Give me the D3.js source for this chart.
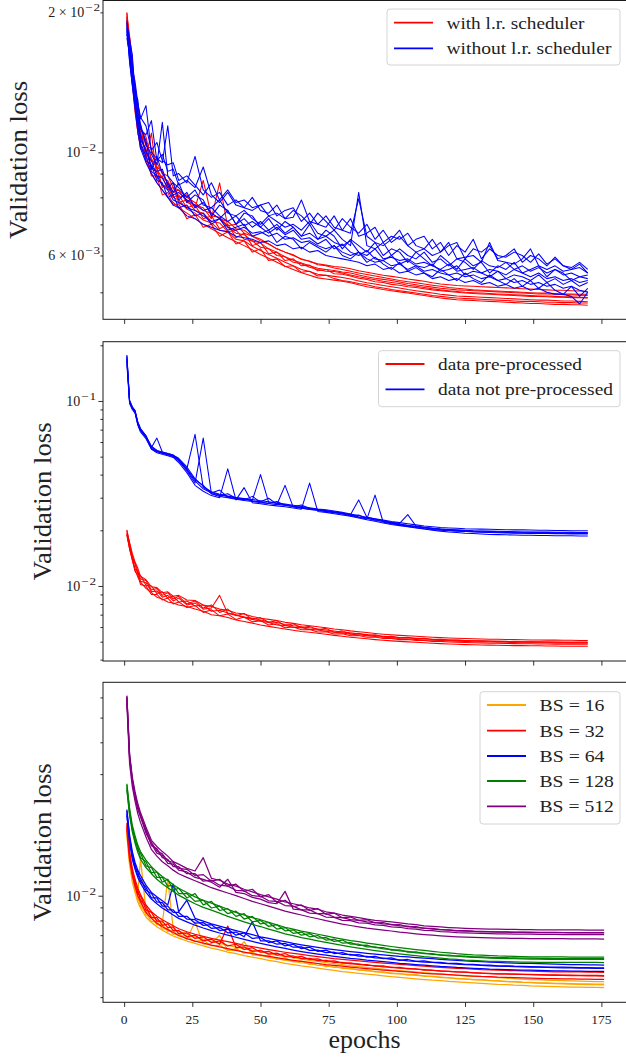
<!DOCTYPE html>
<html><head><meta charset="utf-8">
<script src="https://cdn.jsdelivr.net/npm/d3@7"></script>
<style>
html,body{margin:0;padding:0;background:#fff;}
svg{display:block;}
text{font-family:"Liberation Serif","Times New Roman",serif;fill:#222;}
</style></head><body>
<svg id="chart" width="626" height="1061"></svg>
<script>
// ---------------- DATA ----------------
// epochs at which the runs below are sampled
const EPOCHS = [1,2,3,4,5,6,8,10,12,14,16,18,20,23,26,29,32,35,38,41,44,47,50,53,56,59,62,65,68,71,74,77,80,83,86,89,92,95,98,101,104,107,110,113,116,119,122,125,128,131,134,137,140,143,146,149,152,155,158,161,164,167,170,173,176];
// all loss values are given in units of 10^-3
const UNIT = 1e-3;

// Panel 1 : learning-rate scheduler
const withScheduler = [
 [19.9,17.8,15.9,13.2,12.4,11.2,10.8,9.6,9.5,9.0,8.9,8.4,8.3, 8.0,7.8,7.5,7.4,7.2,7.1,6.85,6.8,6.6,6.5, 6.35,6.2,6.1,6.0,5.9,5.82,5.76,5.72,5.68,5.66, 5.62,5.56,5.52,5.48,5.44,5.41,5.38,5.34,5.31,5.28, 5.24,5.21,5.19,5.17,5.16,5.15,5.14,5.13,5.12,5.11, 5.1,5.09,5.08,5.07,5.06,5.05,5.05,5.04,5.03,5.02],
 [19.5,16.9,14.6,13.5,11.3,11.1,9.8,11.0,8.8,8.9,8.3,8.4,7.8, 7.9,7.5,7.4,7.1,7.05,6.75,6.8,6.5,6.45,6.25, 6.2,6.0,5.96,5.8,5.76,5.66,5.6,5.55,5.54,5.5, 5.45,5.4,5.36,5.32,5.28,5.25,5.22,5.18,5.15,5.12, 5.09,5.06,5.04,5.02,5.0,4.99,4.98,4.97,4.96,4.95, 4.94,4.93,4.92,4.91,4.91,4.9,4.89,4.89,4.88,4.87],
 [19.2,17.0,15.2,12.6,11.5,10.6,10.2,9.2,9.1,8.5,8.4,8.0,7.9, 7.55,7.4,7.15,7.05,6.8,6.75,6.5,6.45,6.28,6.15, 6.03,5.92,5.8,5.7,5.6,5.54,5.47,5.44,5.41,5.38, 5.34,5.29,5.24,5.21,5.17,5.14,5.11,5.07,5.04,5.01, 4.98,4.95,4.93,4.91,4.9,4.89,4.88,4.87,4.86,4.85, 4.84,4.83,4.82,4.81,4.81,4.8,4.79,4.79,4.78,4.77],
 [19.6,17.4,14.8,12.8,11.0,10.4,9.6,9.0,8.6,8.3,8.0,7.8,7.6, 7.4,7.2,7.0,6.85,6.7,6.55,6.42,6.3,6.17,6.03, 5.92,5.8,5.69,5.6,5.51,5.44,5.37,5.34,5.31,5.28, 5.24,5.19,5.14,5.11,5.07,5.04,5.01,4.98,4.95,4.92, 4.89,4.86,4.84,4.82,4.81,4.8,4.79,4.78,4.77,4.76, 4.75,4.74,4.73,4.73,4.72,4.71,4.71,4.7,4.7,4.69],
 [19.0,17.6,15.4,13.4,11.9,11.4,10.3,10.2,9.2,8.8,8.7,8.2,8.3, 7.8,7.7,7.6,7.2,8.6,6.9,6.7,6.65,6.45,6.38, 6.2,6.1,5.96,5.86,5.78,5.7,5.63,5.6,5.57,5.53, 5.5,5.45,5.4,5.36,5.33,5.3,5.26,5.22,5.19,5.16, 5.13,5.1,5.08,5.06,5.05,5.04,5.03,5.02,5.01,5.0, 4.99,4.98,4.97,4.96,4.96,4.95,4.94,4.94,4.93,4.92],
 [20.0,16.6,14.4,13.6,11.2,11.5,9.7,9.6,9.3,8.4,8.6,8.0,8.1, 7.6,7.7,7.2,7.3,6.85,7.0,6.55,6.7,6.3,6.4, 6.05,6.1,5.85,5.9,5.7,5.72,5.56,5.6,5.48,5.47, 5.42,5.36,5.33,5.27,5.25,5.2,5.18,5.14,5.12,5.09, 5.06,5.04,5.02,5.0,4.98,4.97,4.96,4.95,4.94,4.93, 4.92,4.91,4.9,4.9,4.89,4.88,4.88,4.87,4.87,4.86],
 [18.9,16.4,14.1,12.2,11.1,10.2,9.9,8.9,8.9,8.1,8.2,7.7,7.75, 7.2,7.35,6.9,7.0,6.6,6.75,6.35,6.45,6.1,6.2, 5.85,5.9,5.68,5.7,5.52,5.55,5.42,5.44,5.35,5.3, 5.27,5.22,5.19,5.14,5.11,5.07,5.04,5.01,4.98,4.95, 4.92,4.9,4.88,4.86,4.85,4.84,4.83,4.82,4.81,4.8, 4.79,4.78,4.78,4.77,4.76,4.76,4.75,4.75,4.74,4.74],
 [19.4,17.0,15.6,12.9,12.0,10.9,10.5,9.7,9.3,9.1,8.5,8.6,8.0, 8.1,7.6,8.7,7.3,7.25,6.95,7.0,6.7,6.6,6.45, 6.35,6.2,6.1,6.02,5.88,5.84,5.73,5.7,5.64,5.6, 5.55,5.5,5.46,5.42,5.38,5.34,5.3,5.27,5.24,5.21, 5.18,5.15,5.12,5.1,5.08,5.06,5.05,5.04,5.03,5.02, 5.01,5.0,4.99,4.98,4.98,4.97,4.96,4.96,4.95,4.95]
];
const withoutScheduler = [
 [18.6,17.3,15.2,14.2,12.8,11.9,11.4,10.1,10.5,9.6,9.4,9.5,8.7, 8.9,8.5,8.1,8.6,7.9,8.3,7.8,7.9,7.6,7.7, 7.8,7.3,7.5,7.6,7.1,7.4,7.0,7.3,6.9,6.8, 7.2,6.6,6.7,6.9,6.4,6.6,6.5,6.7,6.3,6.2, 6.5,6.1,6.3,6.4,5.9,6.2,6.1,6.3,5.9,6.0, 6.2,5.8,6.0,5.9,5.7,5.95,5.7,5.6,5.75,5.5],
 [18.2,16.8,15.5,13.6,12.2,11.5,10.4,9.9,9.4,11.6,8.9,8.6,8.4, 8.0,8.3,7.7,7.6,7.9,7.4,7.3,7.5,7.2,7.0, 7.3,7.1,6.9,7.0,6.8,7.1,6.7,6.6,6.8,6.5, 6.3,8.2,6.3,6.2,6.4,6.0,6.2,6.0,5.9,6.1, 5.8,5.9,5.7,5.9,5.8,5.6,5.85,5.7,5.65,5.8, 5.6,5.7,5.55,5.65,5.5,5.6,5.45,5.5,5.4,5.45],
 [17.9,16.2,14.4,13.0,11.6,10.9,10.0,9.6,8.9,8.8,8.4,8.6,7.9, 8.2,7.6,7.8,7.4,7.2,7.5,7.0,7.2,6.9,7.1, 6.8,7.0,6.7,6.9,6.6,6.7,6.5,6.6,6.4,6.3, 6.45,6.1,6.0,6.2,5.9,5.95,5.85,5.9,5.75,5.8, 5.7,5.6,5.75,5.55,5.6,5.65,5.5,5.6,5.55,5.45, 5.6,5.5,5.4,5.5,5.35,5.4,5.3,5.35,5.25,5.3],
 [19.2,16.0,14.2,12.8,11.4,10.5,9.8,9.1,8.9,8.5,8.3,7.9,7.8, 7.6,7.5,7.3,7.1,7.2,6.9,6.8,6.9,6.7,6.75, 6.6,6.7,6.5,6.55,6.4,6.45,6.3,6.2,6.3,6.1, 6.0,6.1,5.9,5.8,5.85,5.7,5.75,5.6,5.7,5.55, 5.6,5.5,5.45,5.5,5.4,5.45,5.35,5.4,5.3,5.35, 5.25,5.3,5.2,5.25,5.15,5.2,5.1,5.15,5.05,5.0],
 [18.4,15.8,13.9,12.4,11.1,10.2,9.5,9.0,8.6,8.3,8.0,7.7,7.6, 7.3,7.2,7.0,6.9,6.8,6.75,6.6,6.55,6.5,6.4, 6.45,6.3,6.35,6.2,6.25,6.1,6.15,6.0,5.95,5.9, 5.85,5.8,5.7,5.75,5.6,5.65,5.5,5.55,5.45,5.5, 5.35,5.4,5.3,5.35,5.25,5.3,5.2,5.25,5.15,5.2, 5.1,5.15,5.05,5.1,5.0,4.95,4.95,4.9,4.72,5.0],
 [18.8,17.0,15.0,13.9,12.6,11.8,12.6,10.0,9.7,9.5,11.4,8.9,9.0, 8.6,9.8,8.3,8.0,8.2,7.7,7.9,7.6,7.5,7.7, 7.3,7.4,7.2,7.25,7.9,7.1,7.0,6.9,7.3,6.8, 6.7,7.95,6.6,6.4,6.3,6.5,6.8,6.3,6.1,6.2, 6.0,6.1,6.4,5.9,5.95,6.0,5.8,6.4,5.85,5.8, 5.75,5.9,6.2,5.7,5.6,5.7,5.55,5.6,5.65,5.5],
 [18.0,16.9,14.9,13.8,12.0,11.3,10.6,9.2,9.8,9.0,8.6,8.2,8.6, 7.8,8.1,7.9,7.3,7.7,7.5,7.0,7.4,7.3,6.9, 7.2,6.8,7.1,6.9,6.6,7.0,6.5,6.8,6.6,6.2, 6.5,6.3,6.1,6.4,6.0,6.2,6.1,5.8,6.1,5.9, 5.7,6.0,5.8,5.6,5.9,5.7,5.8,5.5,5.7,5.6, 5.8,5.5,5.6,5.7,5.4,5.6,5.5,5.3,5.4,5.35],
 [18.5,15.6,14.0,12.6,11.8,10.4,9.6,9.4,8.7,8.6,8.0,8.1,7.6, 7.7,7.3,7.4,7.0,7.2,6.8,6.9,7.0,6.6,6.7, 6.8,6.4,6.6,6.5,6.2,6.4,6.25,6.1,6.3,6.0, 5.9,6.1,5.8,5.95,5.75,5.6,5.8,5.55,5.65,5.5, 5.4,5.6,5.45,5.3,5.5,5.35,5.25,5.45,5.3,5.2, 5.35,5.15,5.3,5.1,5.25,5.05,4.95,5.15,4.9,5.1],
 [19.0,17.5,16.2,13.4,13.0,11.2,10.9,11.7,9.6,9.9,9.1,9.2,8.5, 8.7,8.4,9.3,8.1,7.8,8.2,7.7,7.6,8.0,7.5, 7.4,7.7,7.2,7.5,7.3,7.0,7.4,7.1,6.8,7.2, 6.9,6.7,7.0,6.5,6.8,6.4,6.6,6.3,6.5,6.6, 6.2,6.4,6.0,6.3,6.1,6.5,5.9,6.2,6.0,5.95, 6.1,6.0,5.8,6.05,5.75,5.9,5.7,5.65,5.8,5.6],
 [17.6,16.4,14.6,12.7,12.0,10.7,10.1,9.3,9.1,9.2,8.5,8.1,8.2, 7.9,7.7,7.5,7.6,7.3,7.1,7.3,6.95,7.1,6.9, 6.7,6.9,6.65,6.8,6.5,6.55,6.35,6.5,6.2,6.35, 6.1,6.0,6.15,5.9,5.85,6.0,5.75,5.85,5.7,5.65, 5.75,5.55,5.6,5.7,5.45,5.55,5.5,5.4,5.55,5.35, 5.45,5.4,5.3,5.45,5.25,5.35,5.2,5.3,5.15,5.25]
];

// Panel 2 : data pre-processing
const preprocessed = [
 [19.9,17.2,15.0,13.5,12.5,11.3,10.8,9.9,9.8,9.2,9.3,8.8,8.9, 8.4,8.35,7.9,7.75,7.5,7.4,7.15,7.05,6.85,6.7, 6.6,6.5,6.36,6.28,6.18,6.1,6.02,5.95,5.86,5.8, 5.72,5.66,5.6,5.54,5.49,5.45,5.41,5.38,5.35,5.32, 5.29,5.26,5.24,5.22,5.2,5.18,5.17,5.16,5.15,5.14, 5.13,5.12,5.11,5.11,5.1,5.1,5.09,5.09,5.08,5.08],
 [19.4,16.2,14.1,12.4,11.9,10.6,10.4,9.3,9.4,8.7,8.9,8.3,8.6, 7.9,8.1,7.5,7.6,8.9,7.1,6.95,6.75,6.6,6.45, 6.35,6.15,6.12,5.98,5.94,5.84,5.79,5.7,5.62,5.58, 5.49,5.45,5.38,5.34,5.29,5.25,5.2,5.17,5.14,5.11, 5.09,5.07,5.05,5.03,5.02,5.0,4.99,4.98,4.97,4.96, 4.95,4.94,4.94,4.93,4.93,4.92,4.92,4.91,4.91,4.9],
 [18.8,15.9,13.7,12.2,11.2,10.5,9.7,9.2,8.7,8.5,8.2,8.1,7.9, 7.75,7.5,7.3,7.0,6.9,6.75,6.55,6.42,6.3,6.15, 6.05,5.95,5.85,5.76,5.68,5.62,5.55,5.48,5.41,5.35, 5.29,5.23,5.18,5.13,5.09,5.05,5.02,4.99,4.96,4.93, 4.9,4.88,4.86,4.84,4.82,4.81,4.8,4.79,4.78,4.77, 4.76,4.76,4.75,4.75,4.74,4.74,4.73,4.73,4.73,4.72],
 [20.1,16.8,14.6,13.1,11.6,11.4,10.1,10.0,9.1,9.3,8.6,8.8,8.2, 8.3,7.8,7.9,7.3,7.4,7.15,7.0,6.8,6.7,6.55, 6.4,6.35,6.2,6.1,6.02,5.95,5.86,5.78,5.71,5.64, 5.58,5.52,5.46,5.4,5.35,5.31,5.27,5.24,5.21,5.18, 5.15,5.13,5.11,5.09,5.07,5.06,5.05,5.04,5.03,5.02, 5.01,5.0,4.99,4.99,4.98,4.98,4.97,4.97,4.96,4.96],
 [19.2,16.9,14.2,13.3,12.1,10.9,10.7,9.5,9.7,8.9,9.2,8.5,8.8, 8.0,8.3,7.6,7.9,7.2,7.5,6.9,7.1,6.6,6.75, 6.35,6.5,6.1,6.25,5.95,6.05,5.8,5.9,5.62,5.72, 5.5,5.56,5.4,5.45,5.32,5.35,5.25,5.28,5.2,5.21, 5.14,5.15,5.1,5.1,5.07,5.06,5.04,5.03,5.02,5.01, 5.0,4.99,4.99,4.98,4.98,4.97,4.97,4.96,4.96,4.96],
 [19.0,15.8,14.0,12.0,11.5,10.2,10.0,9.0,9.0,8.4,8.6,8.0,8.2, 7.65,7.85,7.2,7.45,6.9,7.05,6.6,6.8,6.4,6.5, 6.15,6.25,5.95,6.0,5.8,5.82,5.64,5.66,5.5,5.52, 5.38,5.4,5.28,5.3,5.2,5.21,5.13,5.14,5.07,5.08, 5.02,5.02,4.98,4.97,4.95,4.94,4.92,4.91,4.9,4.89, 4.88,4.87,4.87,4.86,4.86,4.85,4.85,4.84,4.84,4.84]
];
const notPreprocessed = [
 [177,101,93,89,77,71,65,56,63,53,52,51,48.5, 43,66,34,32,31,30.5,30,29.5,29,40, 28.3,28,27.5,27,26.6,26.2,25.9,25.6,25.2,24.8, 24.3,29.2,23.5,23.1,22.7,22.3,22.0,21.7,21.4,21.1, 20.9,20.7,20.6,20.5,20.4,20.35,20.3,20.25,20.2,20.15, 20.1,20.1,20.05,20.0,20.0,19.95,19.95,19.9,19.9,19.9],
 [165,98,91,87,75,69,63.5,55.5,53.5,52.5,51.5,50.5,47.5, 42,36,63,31.5,30.5,30,29.4,29,28.6,28.2, 27.9,27.5,35,26.7,26.3,25.9,25.6,25.3,24.9,24.5, 24.0,23.5,23.0,31,22.1,21.7,21.4,21.0,20.7,20.4, 20.2,20.0,19.9,19.8,19.7,19.6,19.5,19.45,19.4,19.35, 19.3,19.3,19.25,19.2,19.2,19.15,19.15,19.1,19.1,19.1],
 [158,97,90,86,74,68,62.5,55,52.5,51.5,50.5,49.5,46.5, 41,35,32.5,30.8,30,43,29.2,34,28.2,27.8, 27.4,27.1,26.8,26.4,26.0,36,25.3,25.0,24.6,24.2, 23.8,23.3,22.8,22.4,21.9,21.5,21.2,20.9,20.6,20.3, 20.0,19.8,19.6,19.45,19.3,19.2,19.1,19.0,18.95,18.9, 18.85,18.8,18.8,18.75,18.75,18.7,18.7,18.7,18.65,18.65],
 [172,100,92.5,88,77,70.5,64.5,57,54,53,52,51,49, 44,38,34.5,32.3,31.3,30.6,30.1,29.7,29.3,28.9, 28.5,28.1,27.7,27.3,26.9,26.5,26.1,25.8,25.4,25.0, 24.5,24.0,23.5,23.0,22.5,22.1,21.8,24.3,21.1,20.8, 20.5,20.3,20.2,20.1,20.0,19.9,19.85,19.8,19.75,19.7, 19.65,19.6,19.6,19.55,19.55,19.5,19.5,19.5,19.45,19.45],
 [168,99,92,87,76,69.5,64,56.5,54,52,51.5,50,48, 42.5,37,33.5,31.8,33,30.2,29.6,29.5,28.8,28.5, 29.8,27.7,27.2,27.0,26.4,26.0,25.8,25.3,25.0,24.7, 24.0,24.2,23.2,22.8,22.3,22.0,21.6,21.3,21.0,20.7, 20.5,20.3,20.1,20.0,19.9,19.8,19.75,19.7,19.65,19.6, 19.55,19.5,19.5,19.45,19.45,19.4,19.4,19.4,19.35,19.35],
 [175,100,91,88.5,76,70,64,55,53,52.5,51,50.5,48, 43,37.5,35,31.5,30.8,31.5,29.8,29.2,30.5,28.4, 28.0,28.6,27.3,26.9,27.4,26.2,25.9,25.5,25.1,24.6, 24.4,23.6,23.4,22.6,22.4,21.8,21.5,21.2,20.9,20.6, 20.4,20.2,20.0,19.9,19.8,19.7,19.6,19.55,19.5,19.45, 19.4,19.35,19.35,19.3,19.3,19.25,19.25,19.25,19.2,19.2]
];

// Panel 3 : batch size
const bs16 = [
 [18.3,14.0,12.1,10.9,10.05,14.0,8.75,8.3,8.05,7.8,11.6,7.4,7.25, 7.07,6.9,6.75,6.62,6.5,6.39,6.28,6.18,6.1,6.02, 5.94,5.85,5.77,5.7,5.64,5.58,5.52,5.46,5.41,5.36, 5.31,5.27,5.23,5.19,5.15,5.11,5.08,5.05,5.02,4.99, 4.96,4.93,4.9,4.87,4.85,4.83,4.81,4.79,4.77,4.75, 4.73,4.71,4.69,4.68,4.66,4.65,4.64,4.63,4.62,4.61,4.6,4.6],
 [17.6,13.5,11.8,10.4,9.9,9.1,8.6,7.9,7.95,7.4,7.45,7.05,7.1, 6.75,7.9,6.45,6.5,7.0,6.1,6.12,6.6,5.85,5.86, 5.72,5.66,5.58,5.54,5.45,5.44,5.33,5.32,5.23,5.22, 5.15,5.13,5.07,5.05,4.99,4.97,4.93,4.91,4.87,4.85, 4.81,4.79,4.76,4.74,4.71,4.69,4.67,4.65,4.63,4.61, 4.59,4.57,4.56,4.54,4.53,4.52,4.51,4.5,4.49,4.48,4.48,4.47],
 [17.2,13.2,11.3,10.3,9.45,8.95,8.25,7.85,7.55,7.32,7.13,6.95,6.82, 6.64,6.5,6.35,6.23,6.13,6.01,5.92,5.82,5.74,5.66, 5.58,5.51,5.43,5.37,5.31,5.26,5.2,5.14,5.09,5.04, 5.0,4.96,4.92,4.89,4.85,4.81,4.78,4.75,4.72,4.69, 4.66,4.64,4.61,4.59,4.57,4.55,4.53,4.51,4.49,4.48, 4.46,4.45,4.43,4.42,4.41,4.4,4.39,4.38,4.38,4.37,4.37,4.36],
 [17.9,13.8,11.9,10.8,9.7,9.4,8.4,8.2,7.7,7.7,7.25,7.3,6.95, 6.95,6.6,6.7,6.35,6.4,6.1,6.2,5.95,6.0,5.8, 5.85,5.62,5.7,5.5,5.55,5.38,5.42,5.27,5.3,5.18, 5.2,5.1,5.12,5.02,5.03,4.95,4.96,4.88,4.9,4.83, 4.83,4.77,4.77,4.72,4.72,4.68,4.67,4.64,4.63,4.6, 4.6,4.58,4.57,4.55,4.55,4.53,4.53,4.52,4.51,4.51,4.5,4.5]
];
const bs32 = [
 [19.3,14.9,12.8,11.6,10.7,10.1,9.2,8.65,8.3,8.05,7.83,7.62,7.42, 7.22,7.06,6.93,6.8,6.7,6.6,6.5,6.39,6.31,6.23, 6.15,6.07,6.0,5.94,5.88,5.82,5.77,5.72,5.67,5.63, 5.59,5.55,5.51,5.47,5.44,5.41,5.38,5.35,5.32,5.29, 5.26,5.23,5.21,5.19,5.17,5.15,5.13,5.12,5.1,5.09, 5.08,5.07,5.06,5.05,5.04,5.03,5.03,5.02,5.02,5.01,5.01,5.0],
 [18.6,14.2,12.5,11.0,10.5,9.6,9.1,8.2,8.2,7.65,7.75,7.3,7.3, 6.9,7.0,6.65,6.75,6.45,7.6,6.25,6.3,6.05,6.1, 5.9,5.95,5.78,5.8,5.66,5.68,5.56,5.57,5.47,5.48, 5.4,5.4,5.33,5.32,5.26,5.25,5.2,5.19,5.15,5.13, 5.09,5.07,5.05,5.03,5.01,4.99,4.97,4.96,4.94,4.93, 4.92,4.91,4.9,4.89,4.88,4.87,4.87,4.86,4.86,4.85,4.85,4.84],
 [18.2,13.9,12.0,10.85,10.0,9.5,8.6,8.15,7.8,7.55,7.36,7.17,6.98, 6.79,6.64,6.52,6.4,6.3,6.2,6.1,6.01,5.93,5.85, 5.78,5.71,5.64,5.58,5.52,5.47,5.42,5.37,5.33,5.29, 5.25,5.21,5.18,5.14,5.11,5.08,5.05,5.02,4.99,4.96, 4.94,4.92,4.9,4.88,4.86,4.84,4.82,4.81,4.79,4.78, 4.77,4.76,4.75,4.74,4.73,4.73,4.72,4.72,4.71,4.71,4.7,4.7],
 [19.0,14.5,12.2,11.4,10.2,10.0,8.8,8.6,7.95,7.95,7.5,7.55,7.1, 7.15,6.8,6.9,6.55,6.65,6.35,6.45,6.15,6.25,6.0, 6.05,5.85,5.93,5.72,5.78,5.62,5.65,5.52,5.55,5.44, 5.45,5.36,5.37,5.29,5.3,5.22,5.23,5.16,5.16,5.11, 5.1,5.06,5.05,5.02,5.01,4.98,4.97,4.95,4.94,4.93, 4.92,4.91,4.91,4.9,4.89,4.89,4.88,4.88,4.87,4.87,4.87,4.86]
];
const bs64 = [
 [21.8,17.3,14.9,13.5,12.6,12.0,11.0,10.3,9.9,9.55,9.2,11.1,8.65, 9.6,8.15,7.95,7.75,7.6,7.45,7.3,7.16,7.03,6.9, 6.8,6.7,6.6,6.5,6.42,6.34,6.27,6.2,6.14,6.09, 6.04,5.99,5.94,5.9,5.86,5.82,5.78,5.75,5.72,5.69, 5.66,5.63,5.6,5.57,5.55,5.53,5.51,5.49,5.47,5.45, 5.44,5.43,5.42,5.41,5.4,5.39,5.38,5.37,5.36,5.35,5.35,5.34],
 [21.0,16.6,14.2,13.2,12.0,11.7,10.5,10.2,9.45,9.4,8.8,8.8,8.3, 8.3,7.8,7.85,7.45,7.5,7.15,7.2,6.9,7.9,6.65, 6.65,6.45,6.5,6.28,6.3,6.1,6.12,5.98,6.0,5.88, 5.88,5.79,5.78,5.7,5.69,5.62,5.6,5.55,5.53,5.49, 5.47,5.44,5.41,5.39,5.37,5.35,5.33,5.31,5.29,5.28, 5.27,5.26,5.25,5.24,5.23,5.22,5.21,5.21,5.2,5.2,5.19,5.19],
 [20.6,16.2,13.9,12.7,11.8,11.2,10.3,9.7,9.3,8.95,8.68,8.4,8.15, 7.9,7.66,7.47,7.3,7.14,7.0,6.87,6.74,6.62,6.5, 6.4,6.3,6.21,6.12,6.04,5.97,5.9,5.84,5.78,5.73, 5.68,5.64,5.59,5.55,5.51,5.47,5.43,5.4,5.37,5.34, 5.31,5.28,5.26,5.23,5.21,5.19,5.17,5.15,5.14,5.13, 5.12,5.11,5.1,5.09,5.08,5.07,5.07,5.06,5.06,5.05,5.05,5.05],
 [21.5,16.9,14.6,12.9,12.4,11.4,10.8,9.8,9.8,9.1,9.1,8.6,8.6, 8.1,8.05,7.65,7.7,7.3,7.4,7.0,7.15,6.8,6.85, 6.55,6.65,6.35,6.45,6.2,6.28,6.05,6.12,5.93,5.98, 5.84,5.87,5.74,5.78,5.66,5.7,5.58,5.62,5.52,5.55, 5.47,5.48,5.42,5.43,5.38,5.38,5.34,5.34,5.31,5.31, 5.29,5.28,5.27,5.26,5.25,5.24,5.24,5.23,5.22,5.22,5.21,5.21]
];
const bs128 = [
 [27.5,22.0,18.9,17.2,15.8,14.9,13.8,13.0,12.4,11.9,11.5,11.05,10.7, 10.3,9.9,9.6,9.35,9.1,8.85,8.6,8.4,8.2,8.05, 7.86,7.68,7.52,7.4,7.26,7.16,7.06,6.95,6.85,6.76, 6.67,6.6,6.52,6.45,6.38,6.32,6.26,6.2,6.15,6.1, 6.05,6.0,5.96,5.92,5.89,5.86,5.84,5.82,5.8,5.79, 5.78,5.77,5.76,5.76,5.75,5.75,5.75,5.74,5.74,5.74,5.74,5.74],
 [26.5,21.0,18.4,16.3,15.6,14.1,13.6,12.3,12.4,11.3,11.6,10.5,10.7, 9.8,10.2,9.2,9.5,8.75,8.9,8.3,8.5,7.9,8.0, 7.58,7.7,7.28,7.35,7.0,7.1,6.82,6.85,6.62,6.7, 6.45,6.45,6.3,6.3,6.18,6.16,6.07,6.05,5.97,5.95, 5.88,5.86,5.8,5.79,5.75,5.73,5.71,5.69,5.68,5.67, 5.66,5.65,5.64,5.64,5.63,5.63,5.63,5.62,5.62,5.62,5.62,5.62],
 [26.0,20.6,17.8,16.1,14.8,13.9,12.9,12.2,11.6,11.15,10.75,10.4,10.05, 9.65,9.3,9.0,8.78,8.55,8.3,8.1,7.9,7.72,7.57, 7.4,7.24,7.09,6.97,6.85,6.75,6.65,6.56,6.47,6.38, 6.3,6.23,6.16,6.09,6.03,5.97,5.91,5.86,5.82,5.77, 5.73,5.69,5.65,5.62,5.59,5.57,5.55,5.53,5.52,5.51, 5.5,5.49,5.49,5.48,5.48,5.48,5.47,5.47,5.47,5.47,5.47,5.46],
 [27.2,21.6,18.2,16.9,15.1,14.7,13.1,12.9,11.8,11.8,10.9,11.0,10.2, 10.2,9.5,9.6,8.95,9.1,8.5,8.7,8.1,8.3,7.75, 7.85,7.4,7.5,7.12,7.2,6.9,6.98,6.7,6.76,6.52, 6.55,6.38,6.4,6.25,6.26,6.12,6.13,6.01,6.02,5.92, 5.92,5.85,5.85,5.8,5.79,5.76,5.75,5.73,5.72,5.71, 5.7,5.69,5.69,5.68,5.68,5.67,5.67,5.67,5.66,5.66,5.66,5.66]
];
const bs512 = [
 [61,36,29.2,25.6,23.0,21.2,18.6,16.5,15.6,14.9,14.3,13.6,13.3, 12.8,12.5,14.1,11.7,11.5,11.1,10.9,10.6,10.35,10.1, 9.9,9.7,9.45,9.3,9.15,8.95,8.85,8.65,8.55,8.4, 8.3,8.2,8.1,8.0,7.95,7.9,7.82,7.75,7.7,7.62, 7.58,7.54,7.5,7.47,7.45,7.43,7.41,7.4,7.39,7.38, 7.37,7.36,7.36,7.35,7.35,7.35,7.34,7.34,7.34,7.33,7.33,7.33],
 [59,34.5,28,24.3,21.8,20.4,17.6,16.0,14.7,14.4,13.4,13.3,12.6, 12.4,11.8,11.6,11.3,10.8,11.6,10.3,10.2,9.85,9.7, 9.4,9.3,10.4,8.85,8.8,8.55,8.5,8.25,8.22,8.0, 7.98,7.82,7.8,7.68,7.65,7.55,7.52,7.43,7.4,7.31, 7.29,7.23,7.21,7.17,7.15,7.13,7.11,7.1,7.09,7.08, 7.07,7.06,7.06,7.05,7.05,7.05,7.04,7.04,7.04,7.03,7.03,7.03],
 [57,33,26.8,23.5,21.0,19.4,17.0,15.2,14.3,13.6,13.1,12.6,12.2, 11.8,11.45,11.1,10.75,10.5,10.25,10.0,9.75,9.5,9.3, 9.1,8.9,8.7,8.55,8.4,8.25,8.12,7.98,7.86,7.74, 7.64,7.55,7.46,7.4,7.33,7.27,7.2,7.15,7.09,7.04, 7.0,6.96,6.93,6.9,6.88,6.86,6.84,6.83,6.82,6.81, 6.8,6.8,6.79,6.79,6.78,6.78,6.78,6.77,6.77,6.77,6.77,6.76],
 [60,35,28.5,24.8,22.3,20.7,18.2,15.7,15.3,14.1,13.9,13.0,13.0, 12.2,12.2,11.4,11.5,11.0,10.9,10.5,10.45,10.0,9.95, 9.55,9.5,9.15,9.1,8.8,8.8,8.5,8.5,8.25,8.2, 8.05,8.0,7.9,7.85,7.75,7.72,7.62,7.6,7.5,7.46, 7.4,7.36,7.32,7.28,7.26,7.24,7.22,7.21,7.2,7.19, 7.18,7.18,7.17,7.17,7.16,7.16,7.16,7.15,7.15,7.15,7.15,7.14],
 [60.5,35.5,28.4,25.0,22.5,20.6,18.0,16.2,15.0,14.6,13.7,13.5,12.8, 12.7,12.0,12.1,11.4,11.6,10.9,11.1,10.4,10.6,9.9, 10.1,9.4,9.6,9.05,9.2,8.75,8.9,8.45,8.55,8.2, 8.25,8.0,8.05,7.82,7.85,7.68,7.7,7.55,7.56,7.45, 7.44,7.36,7.35,7.3,7.29,7.26,7.25,7.23,7.22,7.21, 7.2,7.19,7.19,7.18,7.18,7.18,7.17,7.17,7.17,7.16,7.16,7.16]
];

const LEGEND_1 = ["with l.r. scheduler", "without l.r. scheduler"];
const LEGEND_2 = ["data pre-processed", "data not pre-processed"];
const LEGEND_3 = ["BS = 16", "BS = 32", "BS = 64", "BS = 128", "BS = 512"];
const X_TICKS = [0, 25, 50, 75, 100, 125, 150, 175];
// y tick labels: [value, mantissa, exponent]
const YLABELS_1 = [[2e-2, "2", "2"], [1e-2, "", "2"], [6e-3, "6", "3"]];
const YLABELS_2 = [[1e-1, "", "1"], [1e-2, "", "2"]];
const YLABELS_3 = [[1e-2, "", "2"]];
const YMAJOR_1 = [1e-2], YMINOR_1 = [5e-3,6e-3,7e-3,8e-3,9e-3,2e-2];
const YMAJOR_2 = [1e-2,1e-1], YMINOR_2 = [4e-3,5e-3,6e-3,7e-3,8e-3,9e-3,2e-2,3e-2,4e-2,5e-2,6e-2,7e-2,8e-2,9e-2,2e-1];
const YMAJOR_3 = [1e-2], YMINOR_3 = [4e-3,5e-3,6e-3,7e-3,8e-3,9e-3,2e-2,3e-2,4e-2,5e-2,6e-2];

// ---------------- DRAWING ----------------
const svg = d3.select("#chart");
const X0 = 103, X1 = 628;
const x = d3.scaleLinear().domain([-7.75, 184.75]).range([X0, X1]);

const panels = [
  { top: 0.5, bottom: 319.3, domain: [0.004374, 0.02121], lw: 1.05,
    groups: [withScheduler, withoutScheduler], colors: ["#ff0000", "#0000ff"], names: LEGEND_1,
    major: YMAJOR_1, minor: YMINOR_1, labels: YLABELS_1, ylabelX: 27,
    legend: { x: 387, y: 9, w: 233, h: 56, rows: [22.7, 48.3], widths: [138, 165] } },
  { top: 341.7, bottom: 661, domain: [0.003932, 0.2091], lw: 1.05,
    groups: [preprocessed, notPreprocessed], colors: ["#ff0000", "#0000ff"], names: LEGEND_2,
    major: YMAJOR_2, minor: YMINOR_2, labels: YLABELS_2, ylabelX: 51,
    legend: { x: 378.5, y: 350.7, w: 241.5, h: 56, rows: [364, 389.3], widths: [144, 175] } },
  { top: 682.3, bottom: 1002.3, domain: [0.003817, 0.06879], lw: 1.25,
    groups: [bs16, bs32, bs64, bs128, bs512], colors: ["#ffa500", "#ff0000", "#0000ff", "#008000", "#800080"], names: LEGEND_3,
    major: YMAJOR_3, minor: YMINOR_3, labels: YLABELS_3, ylabelX: 51,
    legend: { x: 480, y: 691.7, w: 140, h: 132.3, rows: [705, 730.7, 756, 781, 806.3], widths: [65, 65, 65, 74.4, 74.4] } }
];

panels.forEach((p, pi) => {
  const y = d3.scaleLog().domain(p.domain).range([p.bottom, p.top]);
  const g = svg.append("g");
  const clipId = "clip" + pi;
  svg.append("defs").append("clipPath").attr("id", clipId)
    .append("rect").attr("x", X0).attr("y", p.top).attr("width", X1 - X0).attr("height", p.bottom - p.top);

  const line = d3.line().x((d, i) => x(EPOCHS[i])).y(d => y(d * UNIT));
  const dataG = g.append("g").attr("clip-path", `url(#${clipId})`);
  p.groups.forEach((runs, gi) => {
    runs.forEach(run => {
      dataG.append("path").attr("d", line(run)).attr("fill", "none")
        .attr("stroke", p.colors[gi]).attr("stroke-width", p.lw)
        .attr("stroke-linejoin", "round");
    });
  });

  // y ticks
  const minorAxis = d3.axisLeft(y).tickValues(p.minor).tickSize(2.6).tickFormat("");
  const majorAxis = d3.axisLeft(y).tickValues(p.major).tickSize(4.6).tickFormat("");
  [minorAxis, majorAxis].forEach(ax => {
    const a = g.append("g").attr("transform", `translate(${X0},0)`).call(ax);
    a.select(".domain").remove();
    a.selectAll("line").attr("stroke", "#1a1a1a").attr("stroke-width", 0.9);
  });
  // y tick labels (mantissa × 10 with superscript exponent)
  p.labels.forEach(([v, mant, ex]) => {
    const yy = y(v);
    const right = p.major.includes(v) ? 96 : 100;
    const sup = g.append("text").attr("x", right).attr("y", yy - 1.2).attr("text-anchor", "end")
      .attr("font-size", 11).attr("textLength", 15).attr("lengthAdjust", "spacingAndGlyphs");
    sup.append("tspan").text("\u2212");
    sup.append("tspan").attr("dx", 0.8).text(ex);
    const sw = 15;
    g.append("text").attr("x", right - sw - 0.8).attr("y", yy + 4.8)
      .attr("text-anchor", "end").attr("font-size", 14)
      .text(mant ? mant + " \u00d7 10" : "10");
  });

  // x ticks
  const xa = g.append("g").attr("transform", `translate(0,${p.bottom})`)
    .call(d3.axisBottom(x).tickValues(X_TICKS).tickSize(4.6).tickFormat(""));
  xa.select(".domain").remove();
  xa.selectAll("line").attr("stroke", "#1a1a1a").attr("stroke-width", 0.9);
  if (pi === 2) {
    X_TICKS.forEach(t => {
      g.append("text").attr("x", x(t)).attr("y", p.bottom + 21.2)
        .attr("text-anchor", "middle").attr("font-size", 13.5).text(t);
    });
  }

  // frame
  g.append("rect").attr("x", X0).attr("y", p.top).attr("width", X1 - X0).attr("height", p.bottom - p.top)
    .attr("fill", "none").attr("stroke", "#1a1a1a").attr("stroke-width", 1);

  // y label
  g.append("text").attr("transform", `translate(${p.ylabelX},${(p.top + p.bottom) / 2}) rotate(-90)`)
    .attr("text-anchor", "middle").attr("font-size", 26)
    .attr("textLength", 158).attr("lengthAdjust", "spacingAndGlyphs").text("Validation loss");

  // legend
  const L = p.legend;
  const lg = g.append("g");
  lg.append("rect").attr("x", L.x).attr("y", L.y).attr("width", L.w).attr("height", L.h)
    .attr("rx", 3).attr("fill", "#fff").attr("fill-opacity", 0.8)
    .attr("stroke", "#d4d4d4").attr("stroke-width", 1);
  p.names.forEach((name, i) => {
    const ly = L.rows[i];
    lg.append("line").attr("x1", L.x + 7).attr("x2", L.x + 46).attr("y1", ly).attr("y2", ly)
      .attr("stroke", p.colors[i]).attr("stroke-width", 1.8);
    lg.append("text").attr("x", L.x + 59.5).attr("y", ly + 6).attr("font-size", 17.5)
      .attr("textLength", L.widths[i]).attr("lengthAdjust", "spacingAndGlyphs").text(name);
  });
});

// x label
svg.append("text").attr("x", 364.5).attr("y", 1048).attr("text-anchor", "middle")
  .attr("font-size", 26).attr("textLength", 72).attr("lengthAdjust", "spacingAndGlyphs").text("epochs");
</script>
</body></html>
